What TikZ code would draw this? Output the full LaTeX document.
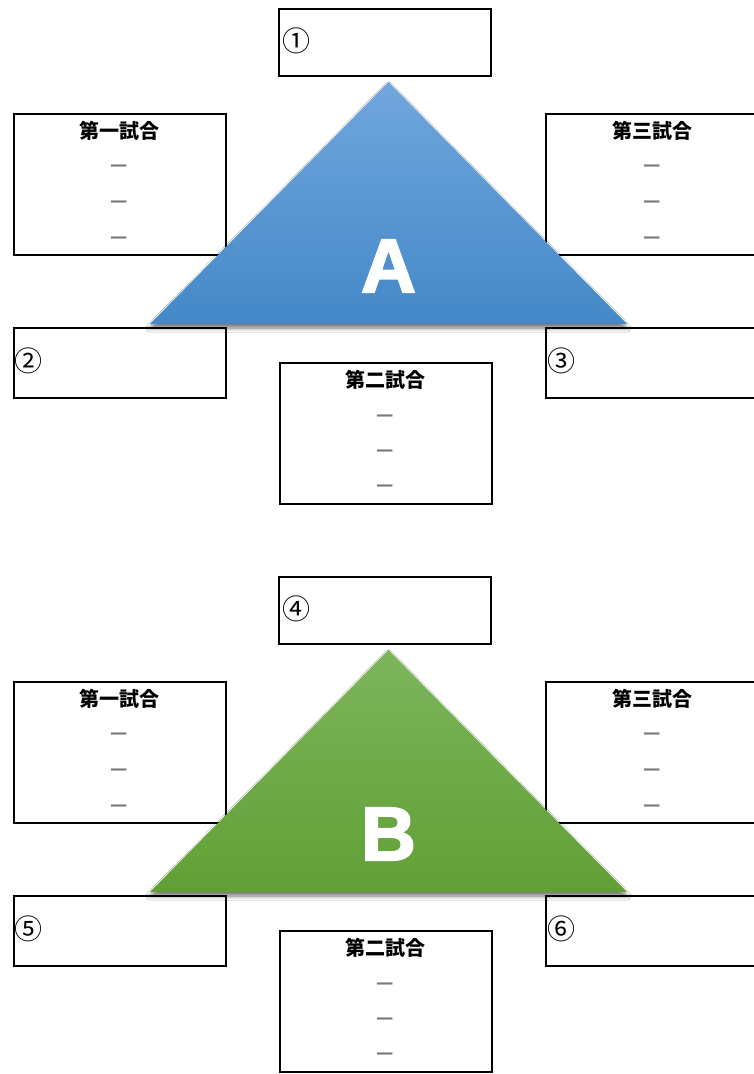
\documentclass[tikz,border=0pt]{standalone}
\usepackage{fontspec}
\setmainfont{Liberation Sans}
\newfontfamily\jpfont{Noto Sans CJK JP}
\newfontfamily\heavyfont[BoldFont={Liberation Sans Bold}, BoldFeatures={FakeBold=2.5}]{Liberation Sans}
\usetikzlibrary{shadows.blur}
\definecolor{blueTop}{HTML}{70A7DD}
\definecolor{blueBot}{HTML}{4488C8}
\definecolor{greenTop}{HTML}{7DB55C}
\definecolor{greenBot}{HTML}{61A035}
\definecolor{dashgray}{HTML}{7A7A7A}
\tikzset{
  box/.style={draw=black, line width=2pt, fill=white, anchor=north west, inner sep=0pt, outer sep=0pt},
  topbox/.style={box, minimum width=212pt, minimum height=67pt},
  sidebox/.style={box, minimum width=212pt, minimum height=70pt},
  bigbox/.style={box, minimum width=212pt, minimum height=141pt},
  title/.style={font=\jpfont\bfseries\fontsize{20}{20}\selectfont, inner sep=0pt},
  dashmark/.style={font=\jpfont\bfseries\fontsize{19}{19}\selectfont, text=dashgray, inner sep=0pt},
  numlabel/.style={font=\jpfont\fontsize{28}{28}\selectfont, anchor=west, inner sep=0pt},
  bigletter/.style={font=\heavyfont\bfseries\fontsize{76}{76}\selectfont, text=white, inner sep=0pt},
  tri/.style={blur shadow={shadow xshift=0pt, shadow yshift=-4pt, shadow blur steps=6, shadow blur radius=4pt, shadow opacity=55}},
}
\begin{document}
\begin{tikzpicture}[x=1pt,y=-1pt]
\path[use as bounding box, fill=white] (0,0) rectangle (754,1074);
\clip (0,0) rectangle (754,1074);
\foreach \o/\s/\tc/\bc/\L/\ma/\mb/\mc in {0/a/blueTop/blueBot/A/①/②/③, 568/b/greenTop/greenBot/B/④/⑤/⑥} {
  \begin{scope}[yshift=-\o pt]
    % top box
    \node[topbox] (top\s) at (279,9) {};
    \node[numlabel] (n1\s) at (282,41) {\ma};
    % first match
    \node[bigbox] (g1\s) at (14,114) {};
    \node[title] (t1\s) at (119,131) {第一試合};
    \node[dashmark] (d1a\s) at (119,168) {—};
    \node[dashmark] (d1b\s) at (119,204) {—};
    \node[dashmark] (d1c\s) at (119,240) {—};
    % third match
    \node[bigbox] (g3\s) at (546,114) {};
    \node[title] (t3\s) at (652,131) {第三試合};
    \node[dashmark] (d3a\s) at (652,168) {—};
    \node[dashmark] (d3b\s) at (652,204) {—};
    \node[dashmark] (d3c\s) at (652,240) {—};
    % side boxes
    \node[sidebox] (left\s) at (14,328) {};
    \node[numlabel] (n2\s) at (14,361) {\mb};
    \node[sidebox] (right\s) at (546,328) {};
    \node[numlabel] (n3\s) at (547,361) {\mc};
    % second match
    \node[bigbox] (g2\s) at (280,363) {};
    \node[title] (t2\s) at (385,380) {第二試合};
    \node[dashmark] (d2a\s) at (385,418) {—};
    \node[dashmark] (d2b\s) at (385,453) {—};
    \node[dashmark] (d2c\s) at (385,488) {—};
    % triangle
    \coordinate (apex\s) at (388.5,82);
    \coordinate (bl\s) at (150,324);
    \coordinate (br\s) at (627,324);
    \shade[top color=\tc, bottom color=\bc, tri] (apex\s) -- (br\s) -- (bl\s) -- cycle;
    \node[bigletter] (L\s) at (388.5,266) {\L};
  \end{scope}
}
\end{tikzpicture}
\end{document}
